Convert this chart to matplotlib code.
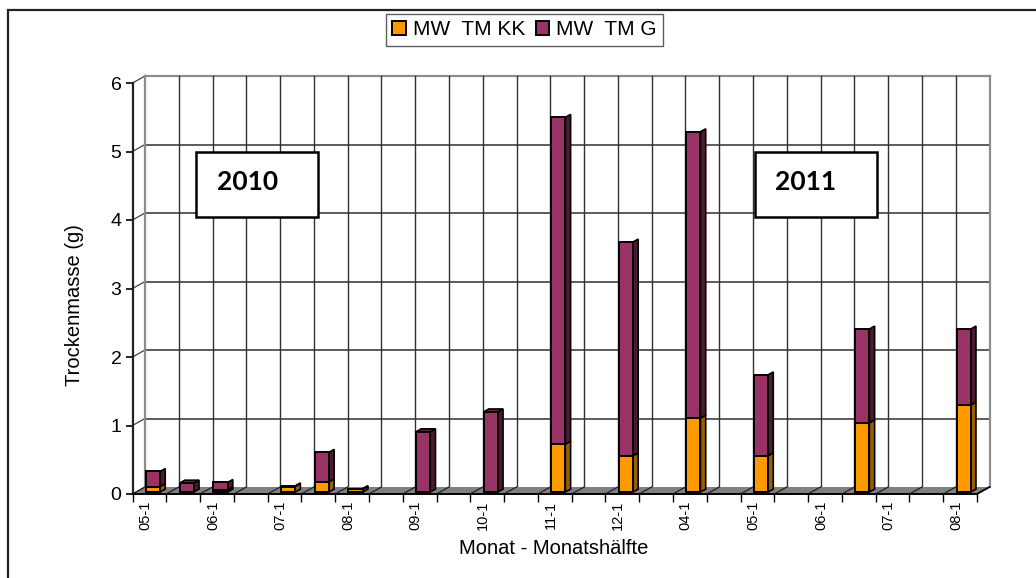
import numpy as np
import matplotlib.pyplot as plt
from matplotlib.patches import Polygon, Rectangle

# --- Daten: Trockenmasse je Monatshälfte (g) ---
perioden = ['05-1', '05-2', '06-1', '06-2', '07-1', '07-2', '08-1', '08-2',
            '09-1', '09-2', '10-1', '10-2', '11-1', '11-2', '12-1', '12-2',
            '04-1', '04-2', '05-1', '05-2', '06-1', '06-2', '07-1', '07-2', '08-1']
tm_kk = [0.08, 0.00, 0.03, 0.00, 0.08, 0.15, 0.04, 0.00, 0.00, 0.00, 0.00, 0.00, 0.70,
         0.00, 0.53, 0.00, 1.08, 0.00, 0.53, 0.00, 0.00, 1.01, 0.00, 0.00, 1.27]
tm_g = [0.22, 0.13, 0.11, 0.00, 0.01, 0.43, 0.01, 0.00, 0.88, 0.00, 1.17, 0.00, 4.77,
        0.00, 3.12, 0.00, 4.18, 0.00, 1.18, 0.00, 0.00, 1.37, 0.00, 0.00, 1.11]
serien = ['MW  TM KK', 'MW  TM G']
jahre = ['2010', '2011']

# Farben (Vorderseite, Seite, Deckel)
FARBEN = {
    'MW  TM KK': ('#FF9900', '#9C5F00', '#C77700'),
    'MW  TM G': ('#993366', '#4D1A33', '#6E2449'),
}

plt.rcParams['font.family'] = ['Liberation Sans', 'DejaVu Sans']

W, H = 1036, 578
fig = plt.figure(figsize=(W / 100, H / 100), dpi=100)

# Achsenbereich = vordere Ebene des 3D-Diagramms (Pixelgrenzen)
x0, x1, y0, y1 = 132.5, 977, 83, 494
ax = fig.add_axes([x0 / W, (H - y1) / H, (x1 - x0) / W, (y1 - y0) / H])
n = len(perioden)
ax.set_xlim(-0.5, n - 0.5)
ax.set_ylim(0, 6)

# Tiefenversatz der Rückwand in Dateneinheiten
DX = 12.5 / ((x1 - x0) / n)
DY = 7 / ((y1 - y0) / 6)
GRID = '#303030'
WALL = '#8C8C8C'

# Boden
ax.add_patch(Polygon([(-0.5, 0), (n - 0.5, 0), (n - 0.5 + DX, DY), (-0.5 + DX, DY)],
                     closed=True, facecolor='#808080', edgecolor='none',
                     zorder=1, clip_on=False))
for k in range(n + 1):
    ax.plot([k - 0.5, k - 0.5 + DX], [0, DY], color='#202020', lw=0.9,
            zorder=1.5, clip_on=False)
ax.plot([n - 0.5, n - 0.5 + DX], [0, DY], color='black', lw=1.2, zorder=1.5, clip_on=False)

# Rückwand: Gitterlinien
for v in range(1, 7):
    ax.plot([-0.5 + DX, n - 0.5 + DX], [v + DY, v + DY], color=GRID if v < 6 else WALL,
            lw=1.1 if v < 6 else 1.6, zorder=0.5, clip_on=False)
for k in range(1, n):
    ax.plot([k - 0.5 + DX, k - 0.5 + DX], [DY, 6 + DY], color=GRID, lw=1.0,
            zorder=0.5, clip_on=False)
for xk in (-0.5 + DX, n - 0.5 + DX):
    ax.plot([xk, xk], [DY, 6 + DY], color=WALL, lw=1.6, zorder=0.6, clip_on=False)

# Seitenwand: schräge Linien zur Rückwand
for v in range(0, 7):
    ax.plot([-0.5, -0.5 + DX], [v, v + DY], color='#404040', lw=0.9, zorder=0.5,
            clip_on=False)

# Gestapelte 3D-Säulen
F0, FD, BW = 0.28, 0.42, 0.42
xs = np.arange(n) + F0 * DX
basis = np.full(n, F0 * DY)
werte = {'MW  TM KK': np.array(tm_kk), 'MW  TM G': np.array(tm_g)}
oben = np.array(tm_kk) + np.array(tm_g)
dx, dy = FD * DX, FD * DY
for name in serien:
    front, seite, deckel = FARBEN[name]
    h = werte[name]
    bars = ax.bar(xs, np.where(h > 0, h, np.nan), width=BW, bottom=basis,
                  color=front, edgecolor='black', linewidth=1.4, zorder=3, label=name)
    for i, r in enumerate(bars.patches):
        if not h[i] > 0:
            continue
        xr = r.get_x() + r.get_width()
        yb, yt = r.get_y(), r.get_y() + r.get_height()
        ax.add_patch(Polygon([(xr, yb), (xr + dx, yb + dy), (xr + dx, yt + dy), (xr, yt)],
                             closed=True, facecolor=seite, edgecolor='black',
                             lw=1.2, zorder=2.9))
        if np.isclose(yt, basis[i] + oben[i]):
            xl = r.get_x()
            ax.add_patch(Polygon([(xl, yt), (xr, yt), (xr + dx, yt + dy), (xl + dx, yt + dy)],
                                 closed=True, facecolor=deckel, edgecolor='black',
                                 lw=1.2, zorder=2.9))
    basis = basis + np.where(h > 0, h, 0)

# Achsen
for s in ('top', 'right'):
    ax.spines[s].set_visible(False)
ax.spines['left'].set_linewidth(1.6)
ax.spines['left'].set_color('#202020')
ax.spines['bottom'].set_linewidth(1.4)
ax.spines['bottom'].set_color('black')

ax.set_yticks(range(0, 7))
ax.tick_params(axis='y', direction='out', length=5, width=1.2, labelsize=14, pad=3)
ax.set_xticks(np.arange(n + 1) - 0.5)
ax.set_xticklabels([])
ax.tick_params(axis='x', which='major', direction='out', length=6, width=1.0)
ax.set_xticks(np.arange(0, n, 2) - 0.12, minor=True)
ax.set_xticklabels(perioden[::2], minor=True, rotation=90, fontsize=10.5)
ax.tick_params(axis='x', which='minor', length=0, pad=5)

ax.set_ylabel('Trockenmasse (g)', fontsize=14.5)
ax.yaxis.set_label_coords(-0.058, 0.46)
ax.set_xlabel('Monat - Monatshälfte', fontsize=14.5, va='center')
ax.xaxis.set_label_coords(0.499, -0.132)

# Jahresmarken
for jahr, (bx, tx) in zip(jahre, [(196, 217), (755, 775)]):
    fig.patches.append(Rectangle((bx / W, (H - 217) / H), 122 / W, 65 / H,
                                 transform=fig.transFigure, facecolor='white',
                                 edgecolor='black', lw=1.8, zorder=5))
    fig.text(tx / W, (H - 182) / H, jahr, fontsize=19, fontweight='bold',
             family=['Lato', 'DejaVu Sans'], ha='left', va='center', zorder=6)

# Legende
leg = fig.legend(loc='upper center', bbox_to_anchor=(524.5 / W, 1 - 14 / H), ncol=2,
                 fontsize=15, frameon=True, fancybox=False, handlelength=0.65,
                 handleheight=0.65, handletextpad=0.35, columnspacing=0.5,
                 borderpad=0.3, borderaxespad=0)
leg.get_frame().set_edgecolor('#333333')
leg.get_frame().set_linewidth(1.0)

# Rahmen um das Diagramm
fig.patches.append(Rectangle((8 / W, -0.1), 1.2, (H - 10) / H + 0.1,
                             transform=fig.transFigure, facecolor='none',
                             edgecolor='#222222', lw=1.6))

fig.savefig('out.png', dpi=100)
